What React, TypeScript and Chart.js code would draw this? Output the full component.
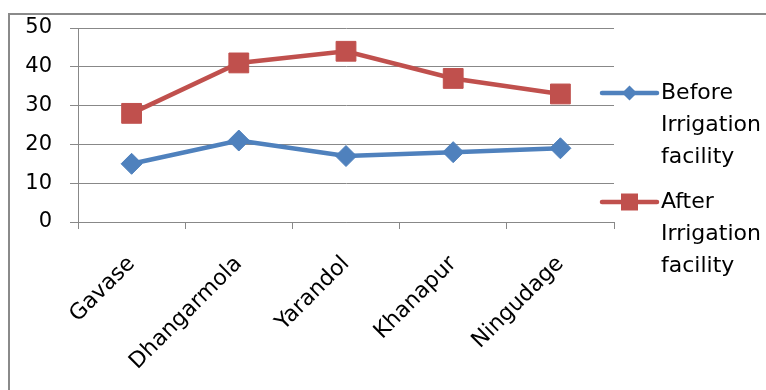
import React, { useEffect, useRef } from "react";
import { Chart, registerables } from "chart.js";

Chart.register(...registerables);

const categories = ["Gavase", "Dhangarmola", "Yarandol", "Khanapur", "Ningudage"];
const beforeValues = [15, 21, 17, 18, 19];
const afterValues = [28, 41, 44, 37, 33];
const beforeLabel = ["Before", "Irrigation", "facility"];
const afterLabel = ["After", "Irrigation", "facility"];
const yMin = 0;
const yMax = 50;
const yStep = 10;

const BLUE = "#4F81BD";
const RED = "#C0504D";
const GRID = "#888888";
const FONT = "'DejaVu Sans', 'Liberation Sans', Arial, sans-serif";

const framePlugin = {
  id: "frame",
  beforeDraw(chart: any) {
    const ctx = chart.ctx;
    ctx.save();
    ctx.fillStyle = "#ffffff";
    ctx.fillRect(0, 0, chart.width, chart.height);
    ctx.strokeStyle = "#8a8a8a";
    ctx.lineWidth = 2;
    ctx.strokeRect(9, 14, chart.width + 20, chart.height + 20);
    ctx.restore();
  },
};

const legendPlugin = {
  id: "customLegend",
  afterDraw(chart: any) {
    const ctx = chart.ctx;
    const area = chart.chartArea;
    const items = [
      { lines: beforeLabel, ds: chart.data.datasets[0], style: "diamond" },
      { lines: afterLabel, ds: chart.data.datasets[1], style: "square" },
    ];
    const x0 = area.right - 12;
    const lineLen = 55;
    const lh = 32;
    let y = 93;
    ctx.save();
    ctx.font = `22px ${FONT}`;
    ctx.textBaseline = "middle";
    ctx.textAlign = "left";
    items.forEach((it) => {
      const c = it.ds.borderColor;
      ctx.strokeStyle = c;
      ctx.lineWidth = 4.5;
      ctx.lineCap = "round";
      ctx.beginPath();
      ctx.moveTo(x0, y);
      ctx.lineTo(x0 + lineLen, y);
      ctx.stroke();
      const cx = x0 + lineLen / 2;
      ctx.fillStyle = c;
      ctx.beginPath();
      if (it.style === "diamond") {
        const r = 7.5;
        ctx.moveTo(cx, y - r);
        ctx.lineTo(cx + r, y);
        ctx.lineTo(cx, y + r);
        ctx.lineTo(cx - r, y);
        ctx.closePath();
      } else {
        ctx.rect(cx - 8.5, y - 8.5, 17, 17);
      }
      ctx.fill();
      ctx.fillStyle = "#000000";
      it.lines.forEach((t: string, i: number) => {
        ctx.fillText(t, x0 + lineLen + 4, y + i * lh);
      });
      y += 109;
    });
    ctx.restore();
  },
};

export default function App() {
  const ref = useRef<HTMLCanvasElement | null>(null);

  useEffect(() => {
    if (!ref.current) return;
    const chart = new Chart(ref.current, {
      type: "line",
      data: {
        labels: categories,
        datasets: [
          {
            label: beforeLabel.join(" "),
            data: beforeValues,
            borderColor: BLUE,
            backgroundColor: BLUE,
            borderWidth: 4.5,
            pointStyle: "rectRot",
            pointRadius: 10.5,
            pointBorderWidth: 1,
            pointBackgroundColor: BLUE,
            pointBorderColor: BLUE,
            tension: 0,
          },
          {
            label: afterLabel.join(" "),
            data: afterValues,
            borderColor: RED,
            backgroundColor: RED,
            borderWidth: 4.5,
            pointStyle: "rect",
            pointRadius: 14,
            pointBorderWidth: 1,
            pointBackgroundColor: RED,
            pointBorderColor: RED,
            tension: 0,
          },
        ],
      },
      options: {
        responsive: false,
        animation: false,
        events: [],
        layout: { padding: { left: 8, top: 28, right: 152, bottom: 0 } },
        plugins: {
          legend: { display: false },
          tooltip: { enabled: false },
        },
        scales: {
          x: {
            type: "category",
            offset: true,
            grid: {
              offset: true,
              drawOnChartArea: false,
              drawTicks: true,
              tickLength: 7,
              color: GRID,
              lineWidth: 1,
            },
            border: { display: true, color: GRID, width: 1 },
            ticks: {
              autoSkip: false,
              minRotation: 45,
              maxRotation: 45,
              padding: 22,
              color: "#000000",
              font: { family: FONT, size: 22 },
            },
            afterFit(scale: any) {
              scale.height = 168;
              scale.paddingLeft = 0;
              scale.paddingRight = 0;
            },
          },
          y: {
            min: yMin,
            max: yMax,
            ticks: {
              stepSize: yStep,
              padding: 18,
              color: "#000000",
              font: { family: FONT, size: 21 },
            },
            grid: {
              color: GRID,
              lineWidth: 1,
              drawTicks: true,
              tickLength: 8,
            },
            border: { display: true, color: GRID, width: 1 },
            afterFit(scale: any) {
              scale.width = 70;
              scale.paddingTop = 0;
              scale.paddingBottom = 0;
            },
          },
        },
      },
      plugins: [framePlugin, legendPlugin],
    });
    return () => chart.destroy();
  }, []);

  return (
    <div style={{ position: "fixed", left: 0, top: 0, width: 766, height: 390, background: "#fff" }}>
      <canvas ref={ref} width={766} height={390} style={{ display: "block", width: 766, height: 390 }} />
    </div>
  );
}
